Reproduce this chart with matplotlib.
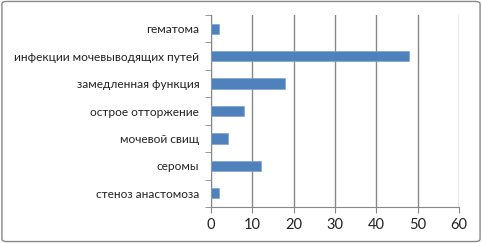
import matplotlib
matplotlib.use("Agg")
import matplotlib.pyplot as plt
from matplotlib.patches import FancyBboxPatch

categories = ["гематома", "инфекции мочевыводящих путей", "замедленная функция",
              "острое отторжение", "мочевой свищ", "серомы", "стеноз анастомоза"]
values = [2, 48, 18, 8, 4, 12, 2]
xticks = [0, 10, 20, 30, 40, 50, 60]

plt.rcParams['font.family'] = ['Lato', 'DejaVu Sans']

fig = plt.figure(figsize=(4.82, 2.43), dpi=100)
ax = fig.add_axes([211/482, 1-207/243, (459-211)/482, (207-15)/243])

n = len(categories)
ypos = list(range(n))[::-1]
ax.barh(ypos, values, height=0.37, color="#4F81BD", edgecolor="#7FA3D0", linewidth=0.5, zorder=3)
ax.set_ylim(-0.5, n-0.5)
ax.set_xlim(0, 60)
ax.set_xticks(xticks)
ax.set_xticklabels([str(t) for t in xticks], fontsize=10.5, color="#222222")
ax.set_yticks(ypos)
ax.set_yticklabels(categories, fontsize=8.6, color="#222222")
ax.tick_params(axis='y', length=0, pad=8.5)
ax.tick_params(axis='x', length=4, color="#888888", pad=4)
ax.set_yticks([i-0.5 for i in range(n+1)], minor=True)
ax.tick_params(axis='y', which='minor', length=4, color="#888888", direction='out')
ax.xaxis.grid(True, color="#888888", linewidth=1, zorder=0)
for s in ['top', 'right']:
    ax.spines[s].set_visible(False)
ax.spines['left'].set_color("#888888")
ax.spines['bottom'].set_color("#888888")

border = FancyBboxPatch((0.004, 0.006), 0.992, 0.988, boxstyle="round,pad=0,rounding_size=0.01",
                        transform=fig.transFigure, fill=False, edgecolor="#888888", linewidth=1)
fig.patches.append(border)

fig.savefig("out.png", dpi=100)
